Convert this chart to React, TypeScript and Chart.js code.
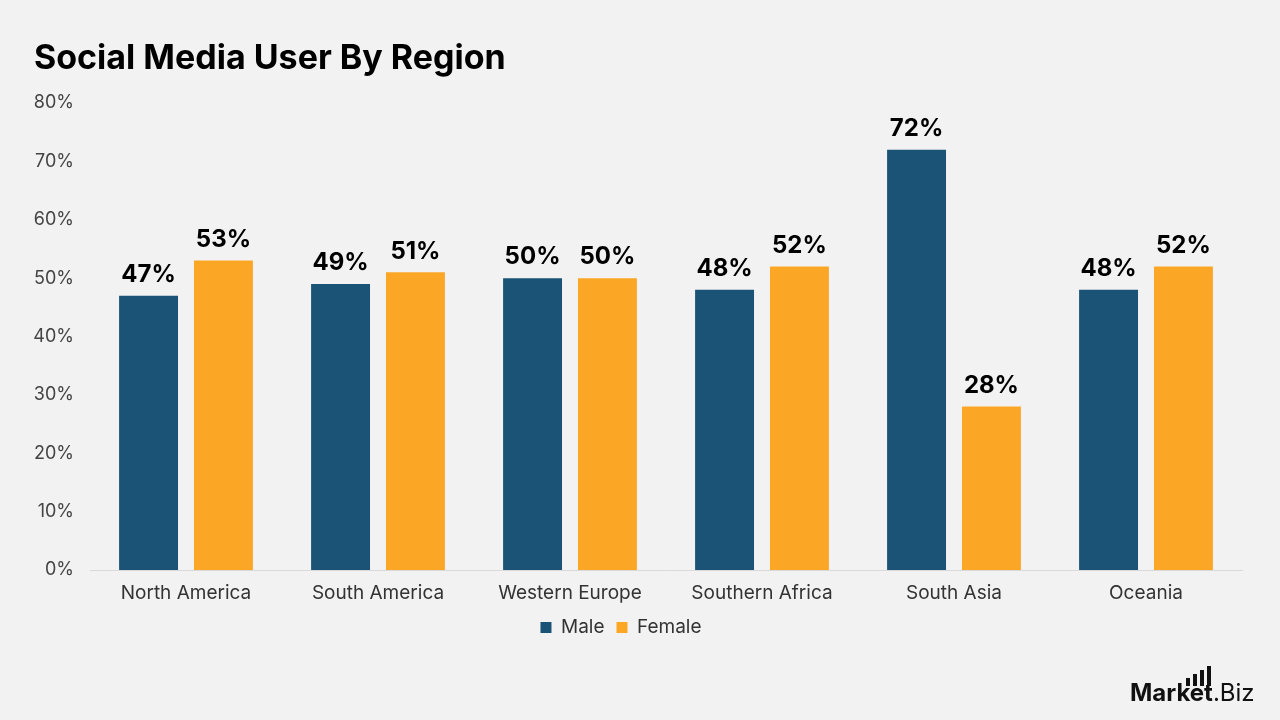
import React, { useEffect, useRef } from "react";
import { Chart, registerables } from "chart.js";

Chart.register(...registerables);

const categories = ["North America", "South America", "Western Europe", "Southern Africa", "South Asia", "Oceania"];
const maleValues = [47, 49, 50, 48, 72, 48];
const femaleValues = [53, 51, 50, 52, 28, 52];
const seriesNames = ["Male", "Female"];
const titleText = "Social Media User By Region";

const FONT = "Inter, 'Open Sans', sans-serif";
const MALE = "#1b5376";
const FEMALE = "#fca626";

const overlayPlugin = {
  id: "overlay",
  beforeDraw(chart: any) {
    const { ctx } = chart;
    ctx.save();
    ctx.fillStyle = "#f2f2f2";
    ctx.fillRect(0, 0, chart.width, chart.height);
    ctx.restore();
  },
  afterDatasetsDraw(chart: any) {
    const { ctx } = chart;
    ctx.save();
    ctx.font = `bold 24px ${FONT}`;
    ctx.fillStyle = "#000";
    ctx.textAlign = "center";
    ctx.textBaseline = "bottom";
    chart.data.datasets.forEach((ds: any, i: number) => {
      const meta = chart.getDatasetMeta(i);
      meta.data.forEach((bar: any, j: number) => {
        ctx.fillText(ds.data[j] + "%", bar.x, bar.y - 9);
      });
    });
    // title
    ctx.textAlign = "left";
    ctx.textBaseline = "middle";
    ctx.font = `bold 34px ${FONT}`;
    ctx.fillText(titleText, 34, 59);
    // logo
    ctx.textBaseline = "alphabetic";
    ctx.font = `bold 24px ${FONT}`;
    ctx.fillStyle = "#111";
    const mw = ctx.measureText("Market").width;
    const x0 = 1130;
    const base = 701;
    ctx.fillText("Market", x0, base);
    ctx.font = `24px ${FONT}`;
    ctx.fillText(".Biz", x0 + mw, base);
    // bar icon
    const heights = [8, 12, 16, 20];
    heights.forEach((h, k) => {
      ctx.fillRect(x0 + 56 + k * 7, base - 17 - h + 2, 4, h);
    });
    ctx.restore();
  },
};

export default function App() {
  const ref = useRef<HTMLCanvasElement>(null);
  useEffect(() => {
    document.body.style.margin = "0";
    const chart = new Chart(ref.current!, {
      type: "bar",
      data: {
        labels: categories,
        datasets: [
          { label: seriesNames[0], data: maleValues, backgroundColor: MALE, categoryPercentage: 0.78, barPercentage: 0.787 },
          { label: seriesNames[1], data: femaleValues, backgroundColor: FEMALE, categoryPercentage: 0.78, barPercentage: 0.787 },
        ],
      },
      options: {
        animation: false,
        responsive: false,
        maintainAspectRatio: false,
        layout: { padding: { top: 103, right: 38, bottom: 73, left: 0 } },
        plugins: {
          legend: {
            position: "bottom",
            labels: {
              boxWidth: 11,
              boxHeight: 11,
              font: { family: FONT, size: 19 },
              color: "#333",
              padding: 12,
            },
          },
          tooltip: { enabled: false },
        },
        scales: {
          x: {
            grid: { display: false, drawTicks: false },
            border: { display: true, color: "#d9d9d9", width: 1 },
            ticks: { font: { family: FONT, size: 19 }, color: "#333", padding: 12 },
            afterFit: (scale: any) => {
              scale.height = 36;
            },
          },
          y: {
            min: 0,
            max: 80,
            grid: { display: false, drawTicks: false },
            border: { display: false },
            ticks: {
              stepSize: 10,
              callback: (v: any) => v + "%",
              font: { family: FONT, size: 18 },
              color: "#444",
              padding: 16,
            },
            afterFit: (scale: any) => {
              scale.width = 90;
            },
          },
        },
      },
      plugins: [overlayPlugin],
    });
    return () => chart.destroy();
  }, []);
  return (
    <div style={{ position: "fixed", left: 0, top: 0, width: 1280, height: 720 }}>
      <canvas ref={ref} width={1280} height={720} />
    </div>
  );
}
